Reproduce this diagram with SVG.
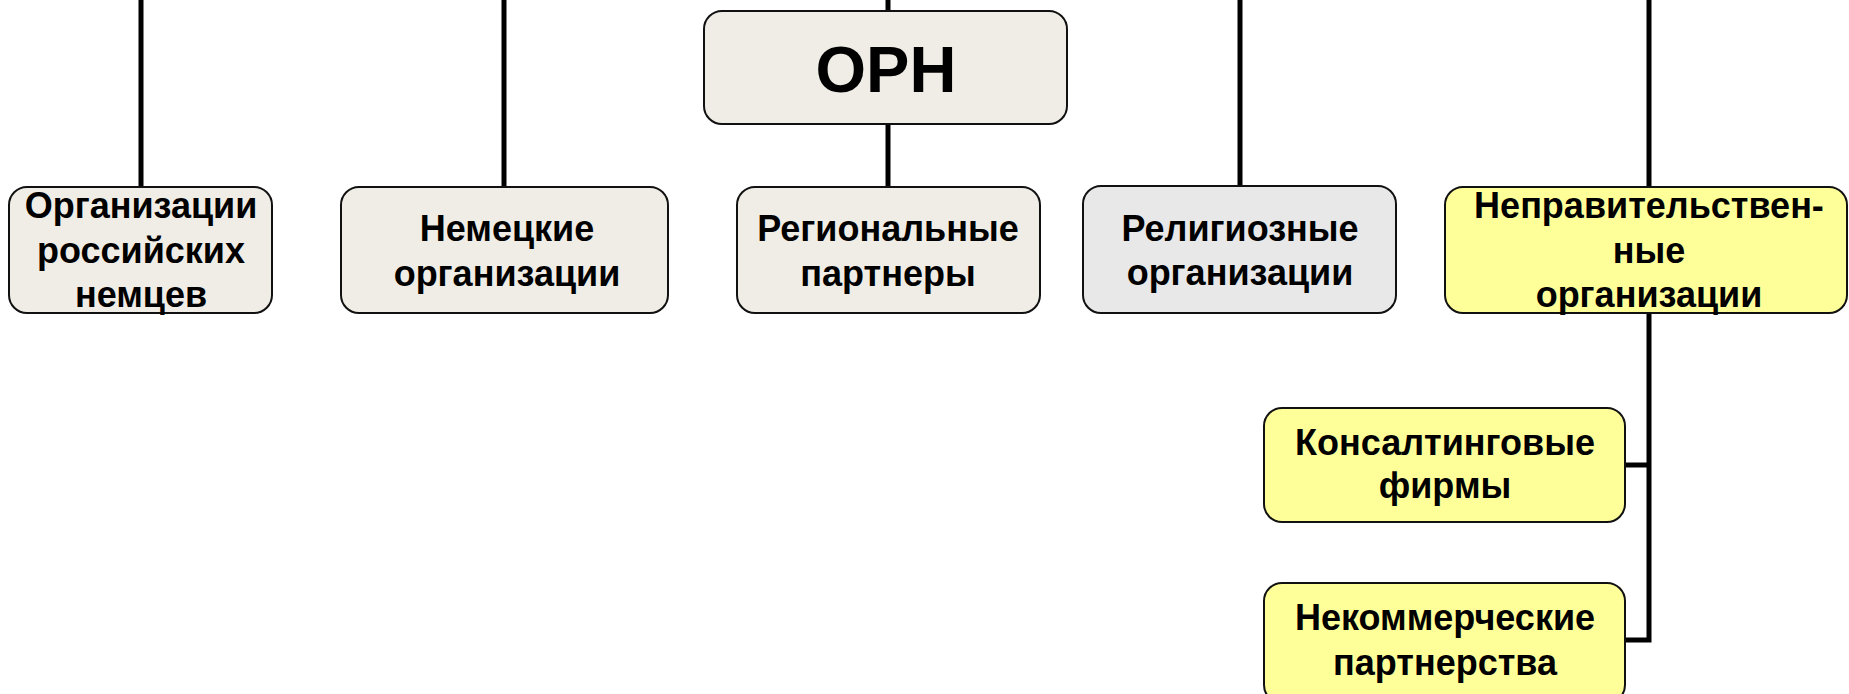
<svg xmlns="http://www.w3.org/2000/svg" width="1849" height="694" viewBox="0 0 1849 694">
<style>
.box{stroke:#111;stroke-width:2}
.beige{fill:#F0EDE6}
.gray{fill:#E8E8E8}
.yellow{fill:#FFFF99}
.t{font-family:"Liberation Sans",Arial,sans-serif;font-weight:bold;font-size:36px;fill:#000;text-anchor:middle}
.big{font-size:65px}
.c{stroke:#000;stroke-width:5;fill:none}
</style>
<rect width="1849" height="694" fill="#fff"/>
<g id="connectors">
<line class="c" x1="141" y1="0" x2="141" y2="188"/>
<line class="c" x1="504" y1="0" x2="504" y2="188"/>
<line class="c" x1="888" y1="0" x2="888" y2="12"/>
<line class="c" x1="888" y1="124" x2="888" y2="188"/>
<line class="c" x1="1240" y1="0" x2="1240" y2="187"/>
<line class="c" x1="1649" y1="0" x2="1649" y2="188"/>
<polyline class="c" points="1649,313 1649,640 1625,640"/>
<line class="c" x1="1625" y1="465" x2="1649" y2="465"/>
</g>
<g id="orh">
<rect class="box beige" x="704" y="11" width="363" height="113" rx="18"/>
<text class="t big" x="886" y="92">ОРН</text>
</g>
<g id="n1">
<rect class="box beige" x="9" y="187" width="263" height="126" rx="18"/>
<text class="t" x="141" y="218">Организации</text>
<text class="t" x="141" y="263">российских</text>
<text class="t" x="141" y="307">немцев</text>
</g>
<g id="n2">
<rect class="box beige" x="341" y="187" width="327" height="126" rx="18"/>
<text class="t" x="507" y="241">Немецкие</text>
<text class="t" x="507" y="286">организации</text>
</g>
<g id="n3">
<rect class="box beige" x="737" y="187" width="303" height="126" rx="18"/>
<text class="t" x="888" y="241">Региональные</text>
<text class="t" x="888" y="286">партнеры</text>
</g>
<g id="n4">
<rect class="box gray" x="1083" y="186" width="313" height="127" rx="18"/>
<text class="t" x="1240" y="241">Религиозные</text>
<text class="t" x="1240" y="285">организации</text>
</g>
<g id="n5">
<rect class="box yellow" x="1445" y="187" width="402" height="126" rx="18"/>
<text class="t" x="1649" y="218">Неправительствен-</text>
<text class="t" x="1649" y="263">ные</text>
<text class="t" x="1649" y="307">организации</text>
</g>
<g id="n6">
<rect class="box yellow" x="1264" y="408" width="361" height="114" rx="18"/>
<text class="t" x="1445" y="455">Консалтинговые</text>
<text class="t" x="1445" y="498">фирмы</text>
</g>
<g id="n7">
<rect class="box yellow" x="1264" y="583" width="361" height="120" rx="18"/>
<text class="t" x="1445" y="630">Некоммерческие</text>
<text class="t" x="1445" y="675">партнерства</text>
</g>
</svg>
